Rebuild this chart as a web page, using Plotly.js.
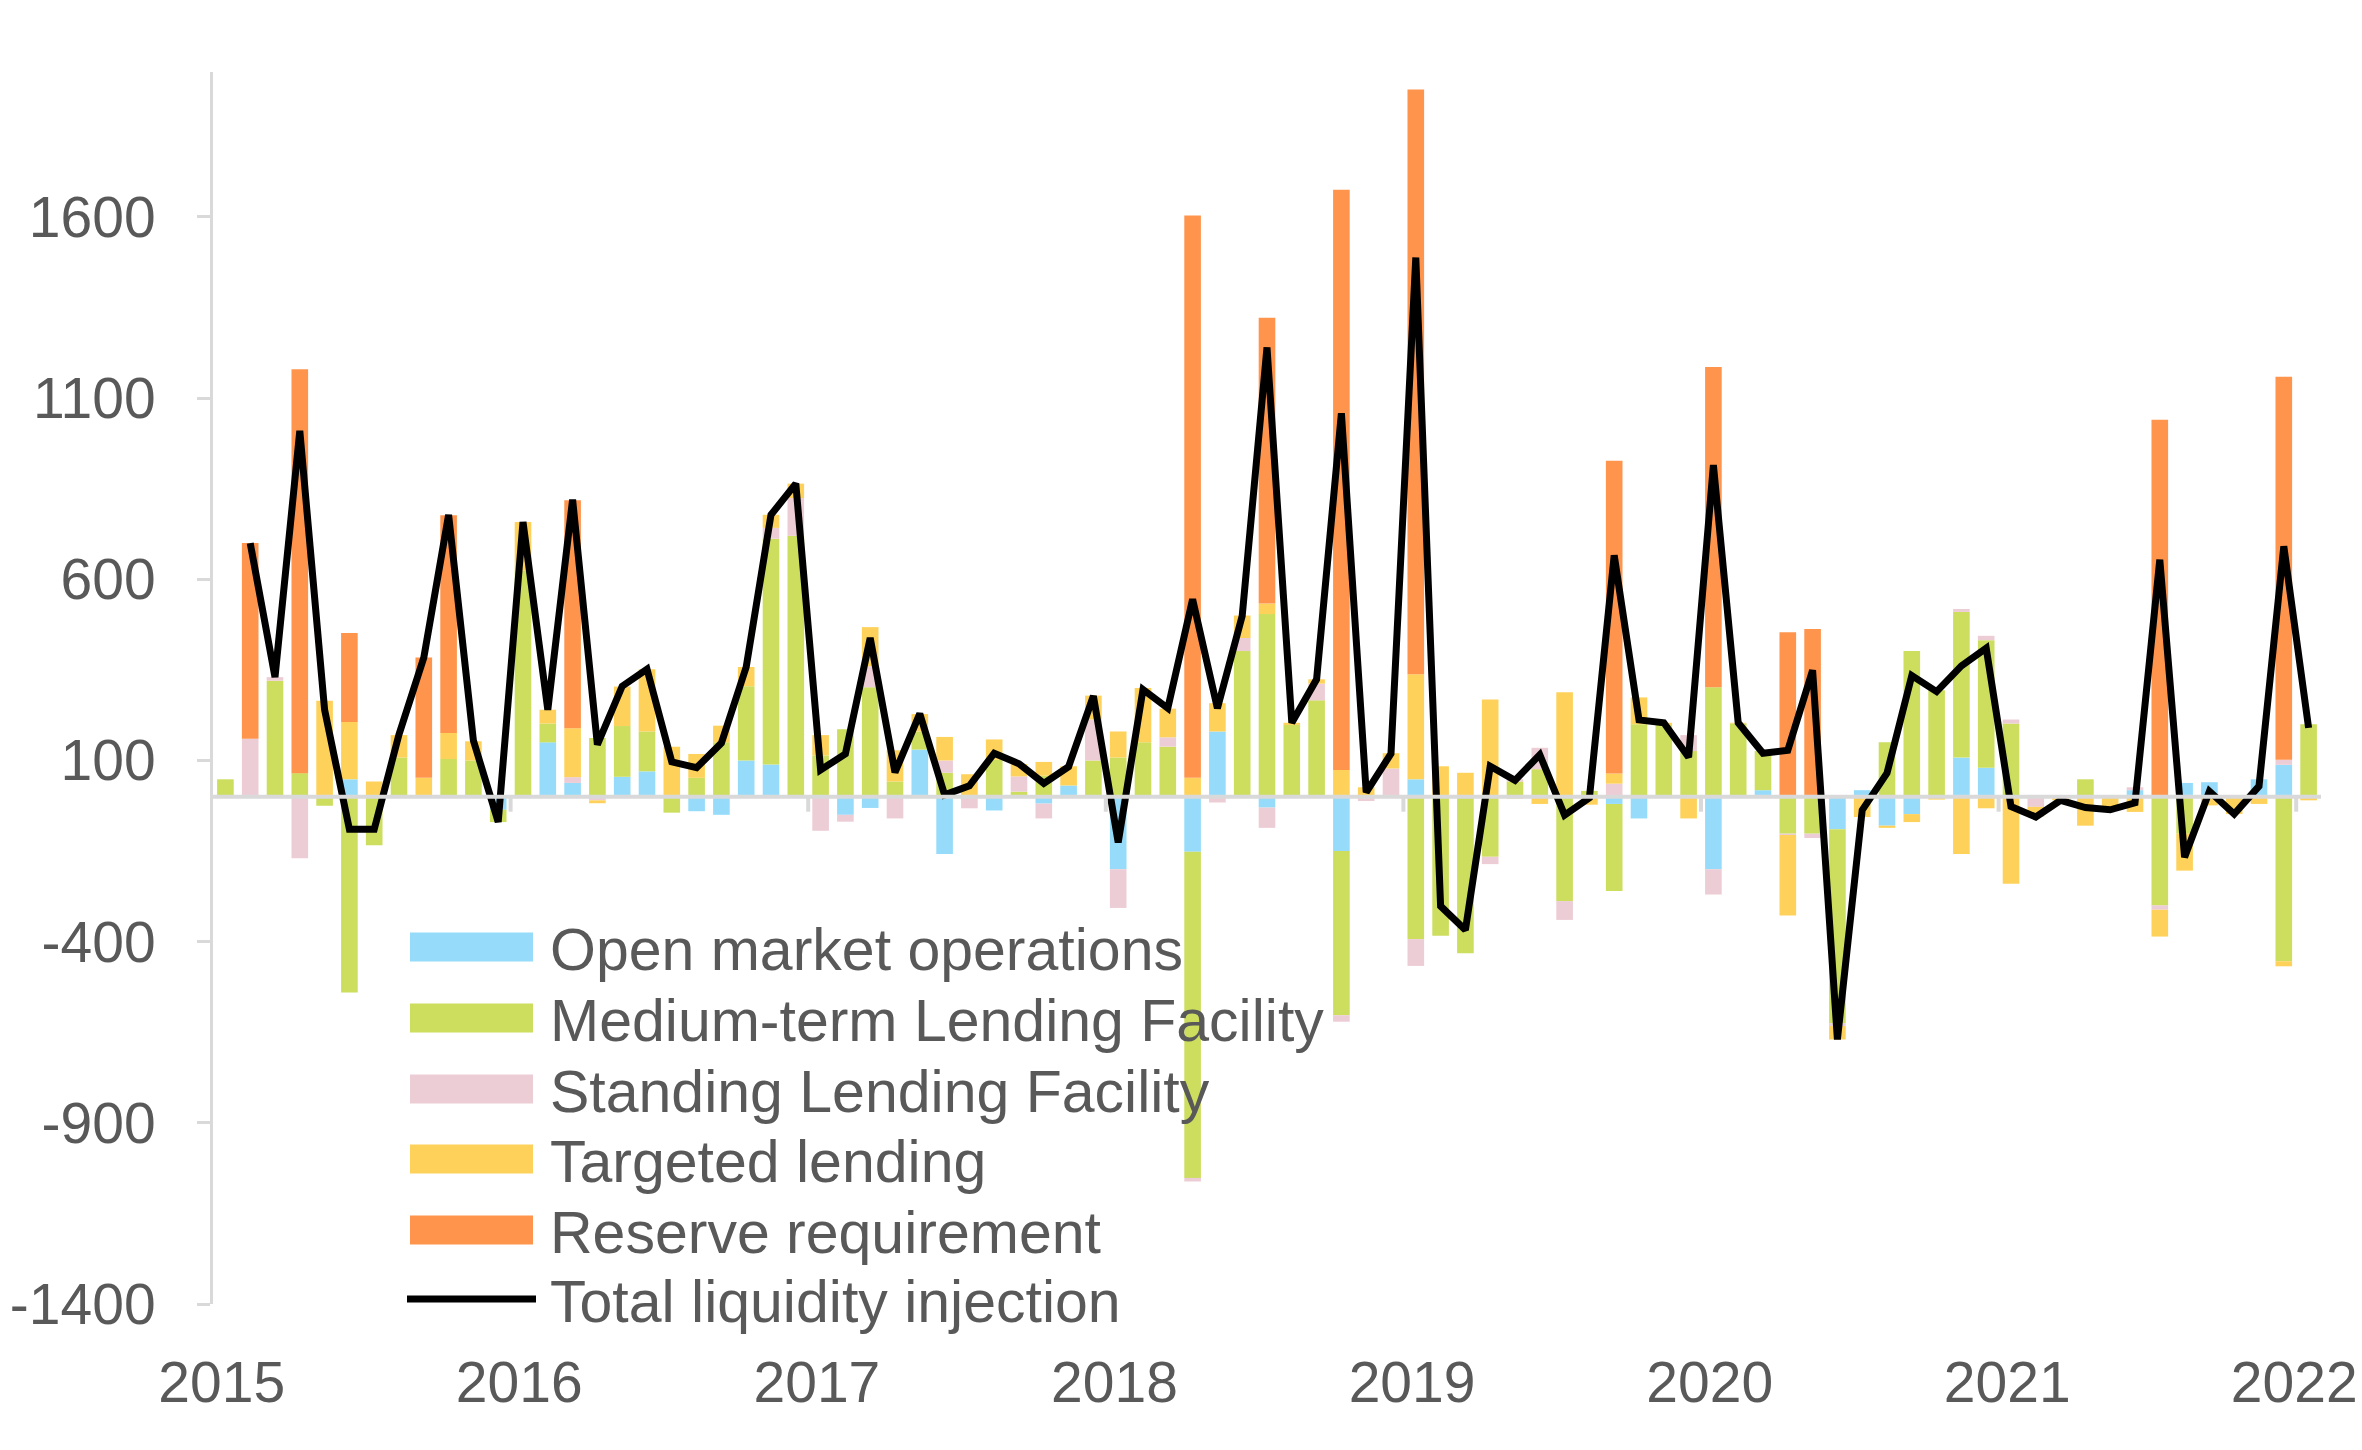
<!DOCTYPE html>
<html>
<head>
<meta charset="utf-8">
<script src="https://cdn.plot.ly/plotly-3.0.1.min.js"></script>
<style>html,body{margin:0;padding:0;background:#fff;}#chart{width:2362px;height:1450px;}</style>
</head>
<body>
<div id="chart"></div>
<script>
// ---------- DATA (monthly, Jan 2015 .. Jan 2022) ----------
const startYear = 2015;
const monthCount = 85;
const months = [];
for (let k = 0; k < monthCount; k++) {
  const y = startYear + Math.floor(k / 12), m = (k % 12) + 1;
  months.push(y + '-' + (m < 10 ? '0' + m : m));
}

const seriesNames = ['Open market operations', 'Medium-term Lending Facility', 'Standing Lending Facility', 'Targeted lending', 'Reserve requirement', 'Total liquidity injection'];

const openMarketOps = [
  0,0,0,0,0,48,0,0,0,0,0,-36,
  0,150,38,0,55,70,0,-40,-50,100,89,0,
  0,-50,-31,0,130,-158,0,-38,0,-19,31,0,
  -200,0,0,-152,180,0,-30,0,0,-150,0,0,
  48,0,0,0,0,0,0,0,-20,-60,0,0,
  -200,0,18,0,0,-90,18,-80,-48,0,108,80,
  0,0,0,0,0,18,0,38,40,0,48,88,
  0];
const mediumTermLF = [
  48,0,320,65,-25,-540,-134,108,0,104,100,-34,
  624,52,0,162,140,110,-44,52,150,205,623,720,
  114,186,302,42,50,66,0,102,14,58,0,100,
  108,150,138,-900,0,402,504,198,266,-453,0,0,
  -393,-384,-432,-166,42,76,-288,16,-240,200,198,126,
  302,202,108,-102,-102,-535,0,150,402,294,402,352,
  202,0,0,48,0,0,-300,-102,0,0,0,-454,
  200];
const standingLF = [
  0,160,10,-170,0,0,0,0,0,0,0,0,
  0,0,16,-10,0,0,0,0,0,0,30,104,
  -94,-19,58,-60,0,34,-32,0,42,-41,0,113,
  -107,0,26,-10,-16,36,-56,0,46,-18,-12,78,
  -74,0,0,-20,6,59,-52,0,36,0,0,44,
  -70,0,0,-4,-12,-8,0,0,0,0,8,12,
  11,-28,0,0,0,8,-12,0,0,0,0,14,
  0];
const targetedLending = [
  0,0,0,0,265,158,42,62,52,72,53,0,
  134,38,135,-8,109,172,138,66,46,53,36,40,
  56,0,108,86,48,65,62,56,34,38,53,66,
  72,150,79,52,78,62,29,6,12,74,26,42,
  290,84,66,268,-5,-20,288,-22,28,74,6,-60,
  0,2,0,-222,0,-37,-56,-6,-22,-8,-158,-32,
  -240,-27,-10,-80,-36,-42,-74,-102,-24,-48,-20,-14,
  -10];
const reserveReq = [
  0,540,0,1115,0,246,0,0,332,601,0,0,
  0,0,629,0,0,0,0,0,0,0,0,0,
  0,0,0,0,0,0,0,0,0,0,0,0,
  0,0,0,1552,0,0,789,0,0,1601,0,0,
  1614,0,0,0,0,0,0,0,863,0,0,0,
  884,0,0,454,463,0,0,0,0,0,0,0,
  0,0,0,0,0,0,1040,0,0,0,0,1057,
  0];
const totalInjection = [
  null,700,330,1010,240,-90,-90,172,384,778,155,-70,
  758,240,820,144,305,352,96,80,148,358,778,864,
  74,118,438,67,229,5,30,120,91,37,83,278,
  -126,296,244,545,244,499,1240,204,324,1058,12,119,
  1488,-302,-368,84,45,116,-51,-3,666,212,204,109,
  915,204,120,128,349,-670,-37,65,334,290,361,410,
  -27,-56,-10,-30,-36,-17,654,-167,15,-48,29,691,
  190];

const yearTickMonths = ['2015-01','2016-01','2017-01','2018-01','2019-01','2020-01','2021-01','2022-01'];
const yearTickText = ['2015','2016','2017','2018','2019','2020','2021','2022'];
const yTickVals = [-1400,-900,-400,100,600,1100,1600];
const yTickText = ['-1400','-900','-400','100','600','1100','1600'];

// ---------- STYLE ----------
const colors = ['#96dcfa', '#cdde5f', '#edcdd5', '#fed25a', '#ff944d', '#000000'];
const FONT = '"Liberation Sans", Arial, sans-serif';
const TXT = '#595959';
const AX = '#d9d9d9';
const W = 2362, H = 1450;
const M = {l: 213, r: 41, t: 72, b: 146};
const PW = W - M.l - M.r, PH = H - M.t - M.b;
const px = x => (x - M.l) / PW;
const py = y => (H - M.b - y) / PH;

// month position on a linear axis (one slot per month)
const xPos = months.map((m, i) => i);
const xRangeMax = monthCount - 0.5;
// year labels sit just left of each January bar; keep the last one inside the page
const yearTickVals = yearTickMonths.map(c => Math.min(months.indexOf(c) - 0.15, xRangeMax - 1.08));

const barSeries = [openMarketOps, mediumTermLF, standingLF, targetedLending, reserveReq];
const traces = barSeries.map((vals, k) => ({
  type: 'bar', x: xPos, y: vals, name: seriesNames[k], customdata: months,
  marker: {color: colors[k], line: {width: 0}},
  showlegend: false, hovertemplate: '%{customdata}: %{y}<extra>' + seriesNames[k] + '</extra>'
}));
traces.push({
  type: 'scatter', mode: 'lines', x: xPos, y: totalInjection, name: seriesNames[5],
  line: {color: '#000', width: 7}, connectgaps: false, showlegend: false
});

// year boundary tick marks on the zero line
const shapes = [];
for (let k = 1; k < yearTickMonths.length; k++) {
  const b = months.indexOf(yearTickMonths[k]) - 0.5;
  shapes.push({type: 'line', xref: 'x', yref: 'y', x0: b, x1: b,
    ysizemode: 'pixel', yanchor: 0, y0: 0, y1: -15,
    line: {color: AX, width: 4}, layer: 'above'});
}
// zero line (horizontal axis crossing)
shapes.push({type: 'line', xref: 'paper', yref: 'y', x0: 0, x1: 1, y0: 0, y1: 0,
  line: {color: AX, width: 4}, layer: 'above'});

// custom legend with wide swatches
const legRows = [947, 1018, 1089, 1159, 1230, 1299];
const annotations = [];
legRows.forEach((cy, k) => {
  if (k < 5) {
    shapes.push({type: 'rect', xref: 'paper', yref: 'paper',
      x0: px(410), x1: px(533), y0: py(cy + 14.5), y1: py(cy - 14.5),
      fillcolor: colors[k], line: {width: 0}, layer: 'above'});
  } else {
    shapes.push({type: 'line', xref: 'paper', yref: 'paper',
      x0: px(407), x1: px(536), y0: py(cy), y1: py(cy),
      line: {color: '#000', width: 7}, layer: 'above'});
  }
  annotations.push({xref: 'paper', yref: 'paper', x: px(548), y: py(cy + 3),
    xanchor: 'left', yanchor: 'middle', showarrow: false, text: seriesNames[k],
    font: {family: FONT, size: 59, color: TXT}});
});

const layout = {
  width: W, height: H,
  margin: M,
  paper_bgcolor: '#fff', plot_bgcolor: '#fff',
  barmode: 'relative', bargap: 0.33,
  showlegend: false,
  font: {family: FONT, color: TXT},
  xaxis: {
    type: 'linear',
    range: [-0.5, xRangeMax],
    tickmode: 'array', tickvals: yearTickVals, ticktext: yearTickText,
    ticks: '', showline: false, showgrid: false, zeroline: false,
    tickfont: {family: FONT, size: 57, color: TXT}, ticklabelstandoff: 40,
    fixedrange: true
  },
  yaxis: {
    range: [-1400, 2000],
    tickmode: 'array', tickvals: yTickVals, ticktext: yTickText,
    ticks: 'outside', ticklen: 13, tickwidth: 3, tickcolor: AX,
    showline: true, linecolor: AX, linewidth: 3,
    showgrid: false, zeroline: false,
    tickfont: {family: FONT, size: 57, color: TXT}, ticklabelstandoff: 30,
    fixedrange: true
  },
  shapes: shapes,
  annotations: annotations
};

Plotly.newPlot('chart', traces, layout, {displayModeBar: false, staticPlot: true});
</script>
</body>
</html>
